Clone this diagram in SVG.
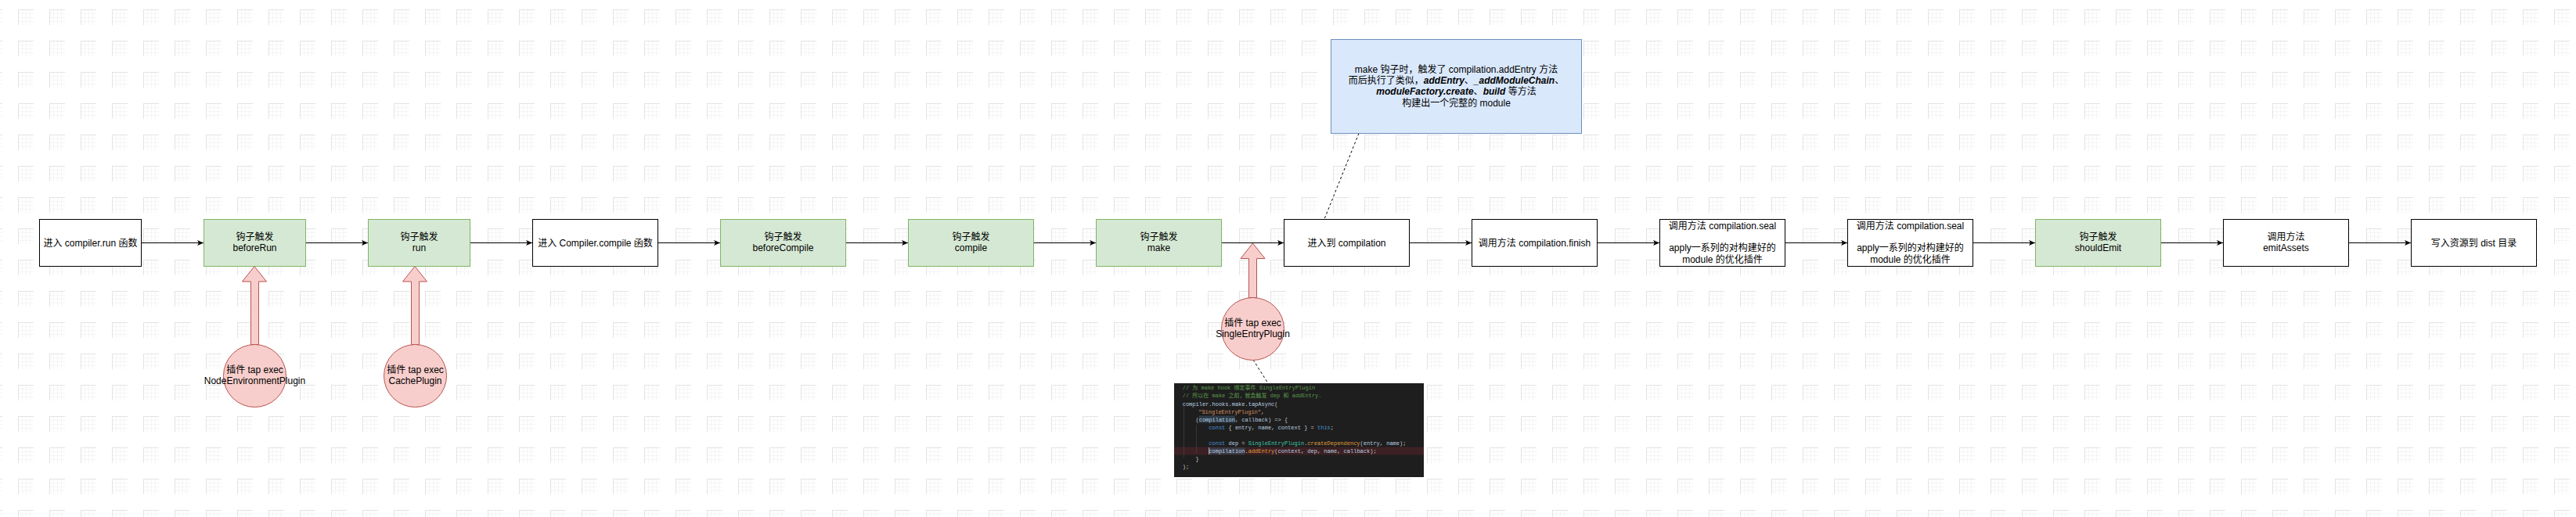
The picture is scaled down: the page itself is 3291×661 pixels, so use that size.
<svg xmlns="http://www.w3.org/2000/svg" width="3291" height="661" viewBox="0 0 3291 661">
<style>
.t{font-family:"Liberation Sans","Noto Sans CJK SC",sans-serif;font-size:12px;fill:#000;text-anchor:middle}
.box{fill:#fff;stroke:#000;stroke-width:1}
.hook{fill:#d5e8d4;stroke:#82b366;stroke-width:1}
.plug{fill:#f8cecc;stroke:#b85450;stroke-width:1}
.note{fill:#dae8fc;stroke:#6c8ebf;stroke-width:1}
.edge{fill:none;stroke:#000;stroke-width:1}
.dash{fill:none;stroke:#000;stroke-width:1;stroke-dasharray:3 3}
.bi{font-weight:bold;font-style:italic}
.code{font-family:"Liberation Mono","Noto Sans CJK SC",monospace;font-size:7px;fill:#b8cfe0}
.cm{fill:#5b9a4a}.kw{fill:#4a92d4}.st{fill:#d5905e}.cl{fill:#3fc4a4}.fn{fill:#e09a3c}.pn{fill:#c8c8c8}
</style>
<defs>
<pattern id="grid" x="23" y="12" width="40" height="40" patternUnits="userSpaceOnUse">
<path d="M5.5,0V20M10.5,0V20M15.5,0V20M0,5.5H20M0,10.5H20M0,15.5H20" stroke="#f5f5f5" stroke-width="1" fill="none"/>
<path d="M0.5,0V20M0,0.5H20" stroke="#e3e3e3" stroke-width="1" fill="none"/>
</pattern>
<marker id="arr" markerUnits="userSpaceOnUse" markerWidth="10" markerHeight="8" refX="8" refY="3.5" orient="auto">
<path d="M0,0 L8,3.5 L0,7 L2,3.5 Z" fill="#000"/>
</marker>
</defs>
<rect width="3291" height="661" fill="#fff"/>
<rect width="3291" height="661" fill="url(#grid)"/>

<g id="connectors">
<path class="edge" marker-end="url(#arr)" d="M180.5,310.5H260"/>
<path class="edge" marker-end="url(#arr)" d="M390.5,310.5H470"/>
<path class="edge" marker-end="url(#arr)" d="M600.5,310.5H680"/>
<path class="edge" marker-end="url(#arr)" d="M840.5,310.5H920"/>
<path class="edge" marker-end="url(#arr)" d="M1080.5,310.5H1160"/>
<path class="edge" marker-end="url(#arr)" d="M1320.5,310.5H1400"/>
<path class="edge" marker-end="url(#arr)" d="M1560.5,310.5H1640"/>
<path class="edge" marker-end="url(#arr)" d="M1800.5,310.5H1880"/>
<path class="edge" marker-end="url(#arr)" d="M2040.5,310.5H2120"/>
<path class="edge" marker-end="url(#arr)" d="M2280.5,310.5H2360"/>
<path class="edge" marker-end="url(#arr)" d="M2520.5,310.5H2600"/>
<path class="edge" marker-end="url(#arr)" d="M2760.5,310.5H2840"/>
<path class="edge" marker-end="url(#arr)" d="M3000.5,310.5H3080"/>
<path class="dash" d="M1736,170.5L1692,280"/>
<path class="dash" d="M1601,460L1620,490"/>
<polygon class="plug" points="325,340.5 340.5,360 330.5,360 330.5,440.5 320.5,440.5 320.5,360 309.5,360"/>
<polygon class="plug" points="530,340.5 545.5,360 535.5,360 535.5,440.5 525.5,440.5 525.5,360 514.5,360"/>
<polygon class="plug" points="1600.5,311 1616,330.5 1605.5,330.5 1605.5,380.5 1595.5,380.5 1595.5,330.5 1585,330.5"/>
</g>

<g id="n-run"><rect class="box" x="50.5" y="280.5" width="130" height="60"/><text class="t" x="115.5" y="314.5">进入 compiler.run 函数</text></g>
<g id="n-beforeRun"><rect class="hook" x="260.5" y="280.5" width="130" height="60"/><text class="t" x="325.5" y="307">钩子触发</text><text class="t" x="325.5" y="321.4">beforeRun</text></g>
<g id="n-hookrun"><rect class="hook" x="470.5" y="280.5" width="130" height="60"/><text class="t" x="535.5" y="307">钩子触发</text><text class="t" x="535.5" y="321.4">run</text></g>
<g id="n-compile-fn"><rect class="box" x="680.5" y="280.5" width="160" height="60"/><text class="t" x="760.5" y="314.5">进入 Compiler.compile 函数</text></g>
<g id="n-beforeCompile"><rect class="hook" x="920.5" y="280.5" width="160" height="60"/><text class="t" x="1000.5" y="307">钩子触发</text><text class="t" x="1000.5" y="321.4">beforeCompile</text></g>
<g id="n-compile"><rect class="hook" x="1160.5" y="280.5" width="160" height="60"/><text class="t" x="1240.5" y="307">钩子触发</text><text class="t" x="1240.5" y="321.4">compile</text></g>
<g id="n-make"><rect class="hook" x="1400.5" y="280.5" width="160" height="60"/><text class="t" x="1480.5" y="307">钩子触发</text><text class="t" x="1480.5" y="321.4">make</text></g>
<g id="n-compilation"><rect class="box" x="1640.5" y="280.5" width="160" height="60"/><text class="t" x="1720.5" y="314.5">进入到 compilation</text></g>
<g id="n-finish"><rect class="box" x="1880.5" y="280.5" width="160" height="60"/><text class="t" x="1960.5" y="314.5">调用方法 compilation.finish</text></g>
<g id="n-seal1"><rect class="box" x="2120.5" y="280.5" width="160" height="60"/><text class="t" x="2200.5" y="292.6">调用方法 compilation.seal</text><text class="t" x="2200.5" y="321.4">apply一系列的对构建好的</text><text class="t" x="2200.5" y="335.8">module 的优化插件</text></g>
<g id="n-seal2"><rect class="box" x="2360.5" y="280.5" width="160" height="60"/><text class="t" x="2440.5" y="292.6">调用方法 compilation.seal</text><text class="t" x="2440.5" y="321.4">apply一系列的对构建好的</text><text class="t" x="2440.5" y="335.8">module 的优化插件</text></g>
<g id="n-shouldEmit"><rect class="hook" x="2600.5" y="280.5" width="160" height="60"/><text class="t" x="2680.5" y="307">钩子触发</text><text class="t" x="2680.5" y="321.4">shouldEmit</text></g>
<g id="n-emitAssets"><rect class="box" x="2840.5" y="280.5" width="160" height="60"/><text class="t" x="2920.5" y="307">调用方法</text><text class="t" x="2920.5" y="321.4">emitAssets</text></g>
<g id="n-dist"><rect class="box" x="3080.5" y="280.5" width="160" height="60"/><text class="t" x="3160.5" y="314.5">写入资源到 dist 目录</text></g>

<g id="n-note"><rect class="note" x="1700.5" y="50.5" width="320" height="120"/>
<text class="t" x="1860.5" y="92.6">make 钩子时，触发了 compilation.addEntry 方法</text>
<text class="t" x="1860.5" y="107">而后执行了类似，<tspan class="bi">addEntry</tspan>、<tspan class="bi">_addModuleChain</tspan>、</text>
<text class="t" x="1860.5" y="121.4"><tspan class="bi">moduleFactory.create</tspan>、<tspan class="bi">build</tspan> 等方法</text>
<text class="t" x="1860.5" y="135.8">构建出一个完整的 module</text>
</g>

<g id="n-p1"><ellipse class="plug" cx="325.5" cy="480.5" rx="40" ry="40"/><text class="t" x="325.5" y="477">插件 tap exec</text><text class="t" x="325.5" y="491.4">NodeEnvironmentPlugin</text></g>
<g id="n-p2"><ellipse class="plug" cx="530.5" cy="480.5" rx="40" ry="40"/><text class="t" x="530.5" y="477">插件 tap exec</text><text class="t" x="530.5" y="491.4">CachePlugin</text></g>
<g id="n-p3"><ellipse class="plug" cx="1600.5" cy="420.5" rx="40" ry="40"/><text class="t" x="1600.5" y="417">插件 tap exec</text><text class="t" x="1600.5" y="431.4">SingleEntryPlugin</text></g>

<g id="n-code">
<rect x="1500" y="490" width="319" height="120" fill="#1e1e1e"/>
<rect x="1500" y="571.6" width="319" height="10" fill="#3c2124"/>
<rect x="1531.7" y="531.6" width="46.2" height="9" fill="#2f3d4a"/>
<rect x="1544.3" y="572.2" width="46.2" height="9" fill="#3a3c48"/>
<path d="M1512.5,520V585M1528.5,543V580" stroke="#3e3e3e" stroke-width="0.8"/>
<path d="M1544.6,572V581" stroke="#d0d0d0" stroke-width="0.8"/>
<text class="code" xml:space="preserve" x="1510.7" y="498.3"><tspan class="cm">// 为 make hook 绑定事件 SingleEntryPlugin</tspan></text>
<text class="code" xml:space="preserve" x="1510.7" y="508.4"><tspan class="cm">// 所以在 make 之前，就会触发 dep 和 addEntry.</tspan></text>
<text class="code" xml:space="preserve" x="1510.7" y="518.5">compiler.hooks.make.tapAsync<tspan class="pn">(</tspan></text>
<text class="code" xml:space="preserve" x="1531.2" y="528.6"><tspan class="st">"SingleEntryPlugin"</tspan><tspan class="pn">,</tspan></text>
<text class="code" xml:space="preserve" x="1527.5" y="538.7"><tspan class="pn">(</tspan>compilation<tspan class="pn">,</tspan> callback<tspan class="pn">) =&gt; {</tspan></text>
<text class="code" xml:space="preserve" x="1544.3" y="548.8"><tspan class="kw">const</tspan> <tspan class="pn">{</tspan> entry<tspan class="pn">,</tspan> name<tspan class="pn">,</tspan> context <tspan class="pn">} =</tspan> <tspan class="kw">this</tspan><tspan class="pn">;</tspan></text>
<text class="code" xml:space="preserve" x="1544.3" y="569"><tspan class="kw">const</tspan> dep <tspan class="pn">=</tspan> <tspan class="cl">SingleEntryPlugin</tspan><tspan class="pn">.</tspan><tspan class="fn">createDependency</tspan><tspan class="pn">(</tspan>entry<tspan class="pn">,</tspan> name<tspan class="pn">);</tspan></text>
<text class="code" xml:space="preserve" x="1544.3" y="579.1">compilation<tspan class="pn">.</tspan><tspan class="fn">addEntry</tspan><tspan class="pn">(</tspan>context<tspan class="pn">,</tspan> dep<tspan class="pn">,</tspan> name<tspan class="pn">,</tspan> callback<tspan class="pn">);</tspan></text>
<text class="code" xml:space="preserve" x="1527.5" y="589.2"><tspan class="pn">}</tspan></text>
<text class="code" xml:space="preserve" x="1510.7" y="599.3"><tspan class="pn">);</tspan></text>
</g>
</svg>
